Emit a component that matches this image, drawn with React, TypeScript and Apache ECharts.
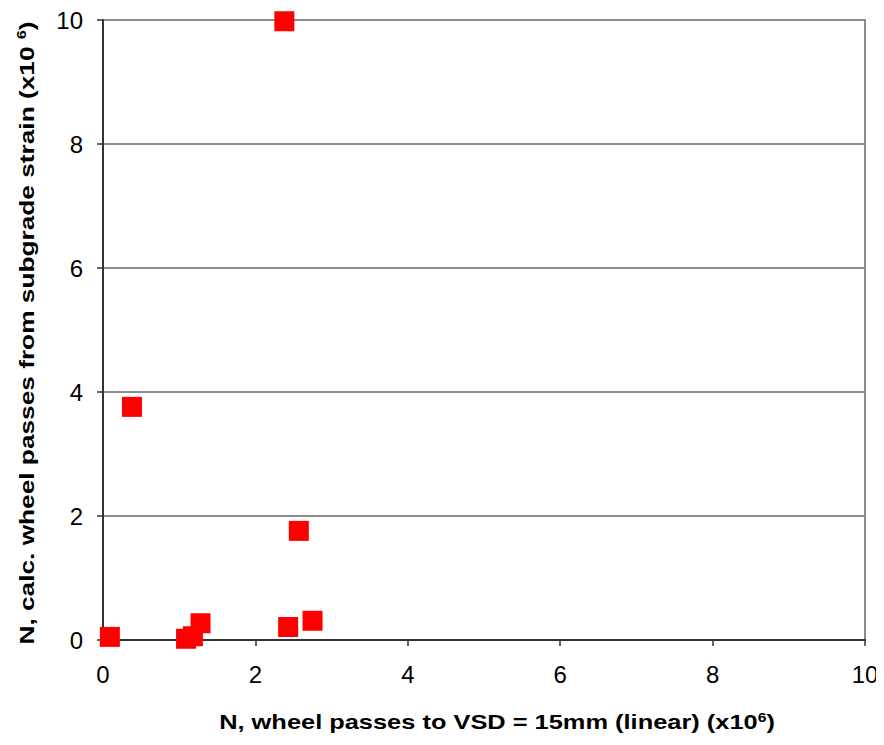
import React, { useEffect, useRef } from "react";
import * as echarts from "echarts";

// Wheel passes to VSD = 15mm (x10^6) vs calculated passes from subgrade strain (x10^6)
const passesToVsd: number[] = [2.38, 0.38, 2.57, 0.09, 1.09, 1.18, 1.28, 2.43, 2.75];
const passesFromStrain: number[] = [9.98, 3.76, 1.76, 0.05, 0.02, 0.06, 0.27, 0.21, 0.31];
const axisTicks: number[] = [0, 2, 4, 6, 8, 10];

const FONT = "'Liberation Sans', Arial, sans-serif";

const titleRich = {
  t: { fontFamily: FONT, fontSize: 21, fontWeight: "bold", fill: "#000" },
  s: { fontFamily: FONT, fontSize: 13, fontWeight: "bold", fill: "#000", verticalAlign: "top", padding: [0, 0, 9, 0] },
};

export default function App() {
  const ref = useRef<HTMLDivElement>(null);

  useEffect(() => {
    if (!ref.current) return;
    const chart = echarts.init(ref.current, undefined, { renderer: "svg" });
    const points = passesToVsd.map((x, i) => [x, passesFromStrain[i]]);
    const tickMin = axisTicks[0];
    const tickMax = axisTicks[axisTicks.length - 1];
    const step = axisTicks[1] - axisTicks[0];

    chart.setOption({
      animation: false,
      backgroundColor: "#ffffff",
      grid: {
        left: 103,
        right: 19,
        top: 20,
        bottom: 105,
        show: true,
        borderColor: "#8c8c8c",
        borderWidth: 2,
        backgroundColor: "transparent",
      },
      xAxis: {
        type: "value",
        min: tickMin,
        max: tickMax,
        interval: step,
        axisLine: { show: true, onZero: false, lineStyle: { color: "#333333", width: 2 } },
        axisTick: { show: true, length: 6, lineStyle: { color: "#333333", width: 1.5 } },
        splitLine: { show: false },
        axisLabel: { color: "#000", fontFamily: FONT, fontSize: 24, margin: 22 },
      },
      yAxis: {
        type: "value",
        min: tickMin,
        max: tickMax,
        interval: step,
        axisLine: { show: true, onZero: false, lineStyle: { color: "#333333", width: 2 } },
        axisTick: { show: true, length: 6, lineStyle: { color: "#333333", width: 1.5 } },
        splitLine: { show: true, lineStyle: { color: "#8c8c8c", width: 2 } },
        axisLabel: { color: "#000", fontFamily: FONT, fontSize: 24, margin: 20 },
      },
      graphic: [
        {
          type: "text",
          x: 497,
          y: 722,
          scaleX: 1.21,
          style: {
            text: "{t|N, wheel passes to VSD = 15mm (linear) (x10}{s|6}{t|)}",
            align: "center",
            verticalAlign: "middle",
            rich: titleRich,
          },
        },
        {
          type: "text",
          x: 26,
          y: 333,
          rotation: Math.PI / 2,
          scaleX: 1.25,
          style: {
            text: "{t|N, calc. wheel passes from subgrade strain (x10 }{s|6}{t|)}",
            align: "center",
            verticalAlign: "middle",
            rich: titleRich,
          },
        },
      ],
      series: [
        {
          type: "scatter",
          data: points,
          symbol: "rect",
          symbolSize: 20,
          itemStyle: { color: "#ff0000", opacity: 1 },
          clip: false,
          z: 5,
        },
      ],
    });

    return () => chart.dispose();
  }, []);

  return <div ref={ref} style={{ width: 884, height: 745, margin: -8 }} />;
}
